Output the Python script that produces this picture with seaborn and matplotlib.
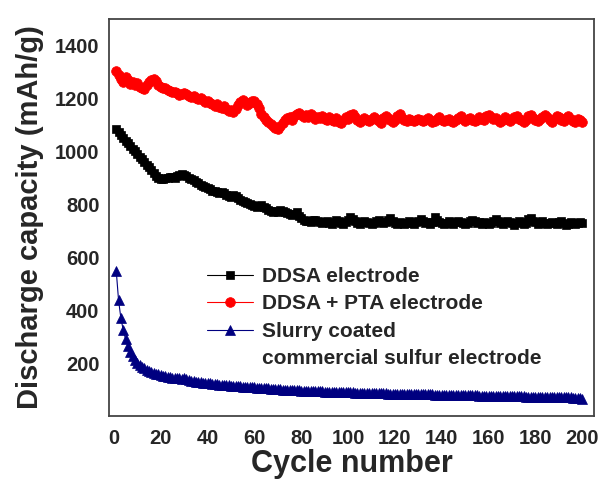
import numpy as np
import pandas as pd
import seaborn as sns
import matplotlib
matplotlib.use("Agg")
import matplotlib.pyplot as plt
from matplotlib.lines import Line2D

# Discharge capacity (mAh/g) for cycles 1..200
cycles = list(range(1, 201))

ddsa_pta = [
    1305, 1290, 1275, 1262, 1280, 1268, 1255, 1262, 1250, 1258,
    1245, 1240, 1236, 1250, 1262, 1270, 1275, 1266, 1252, 1244,
    1238, 1240, 1232, 1228, 1226, 1224, 1220, 1214, 1216, 1222,
    1215, 1208, 1204, 1210, 1200, 1196, 1203, 1195, 1188, 1192,
    1184, 1178, 1172, 1180, 1168, 1162, 1170, 1160, 1152, 1158,
    1148, 1160, 1175, 1188, 1194, 1185, 1176, 1183, 1190, 1192,
    1180, 1162, 1140, 1128, 1120, 1112, 1104, 1095, 1088, 1084,
    1096, 1108, 1118, 1126, 1130, 1120, 1134, 1140, 1144, 1138,
    1130, 1136, 1128, 1140, 1132, 1124, 1130, 1126, 1135, 1122,
    1118, 1128, 1120, 1114, 1126, 1112, 1108, 1120, 1130, 1124,
    1136, 1140, 1128, 1120, 1112, 1118, 1126, 1120, 1115, 1124,
    1130, 1122, 1116, 1108, 1125, 1133, 1127, 1120, 1112, 1118,
    1132, 1140, 1126, 1120, 1116, 1121, 1118, 1114, 1119, 1123,
    1117, 1113, 1120, 1126, 1118, 1110, 1116, 1124, 1128, 1120,
    1113, 1118, 1122, 1115, 1110, 1117, 1125, 1132, 1122, 1116,
    1121, 1127, 1118, 1114, 1120, 1128, 1124, 1118, 1134, 1138,
    1130, 1122, 1126, 1118, 1112, 1120, 1130, 1124, 1116, 1121,
    1128, 1135, 1124, 1118, 1112, 1120, 1132, 1138, 1126, 1118,
    1114, 1122, 1130, 1136, 1128, 1118, 1112, 1124, 1134, 1130,
    1120, 1114, 1126, 1132, 1122, 1116, 1110, 1124, 1118, 1112,
]

ddsa = [
    1085, 1072, 1060, 1050, 1040, 1030, 1020, 1010, 1000, 990,
    980, 970, 960, 950, 940, 930, 918, 908, 900, 896,
    895, 898, 900, 904, 902, 900, 905, 912, 916, 912,
    906, 900, 895, 890, 885, 880, 874, 868, 864, 860,
    856, 852, 850, 846, 842, 846, 842, 836, 830, 826,
    835, 830, 822, 816, 812, 808, 804, 800, 796, 792,
    788, 794, 796, 790, 785, 780, 776, 772, 774, 770,
    778, 776, 770, 768, 762, 760, 764, 770, 756, 748,
    742, 736, 738, 734, 740, 742, 738, 732, 728, 734,
    738, 730, 726, 734, 742, 736, 730, 726, 732, 740,
    752, 744, 736, 730, 726, 732, 738, 734, 728, 724,
    730, 736, 740, 734, 728, 732, 742, 748, 738, 730,
    726, 734, 730, 724, 728, 736, 730, 726, 732, 738,
    744, 736, 728, 732, 726, 734, 752, 740, 732, 728,
    724, 730, 736, 730, 726, 732, 738, 734, 728, 724,
    730, 736, 742, 736, 728, 732, 726, 734, 730, 724,
    728, 736, 744, 738, 730, 726, 732, 738, 734, 728,
    722, 730, 736, 732, 726, 730, 744, 748, 738, 732,
    726, 730, 736, 730, 724, 728, 734, 730, 726, 732,
    738, 730, 722, 726, 734, 730, 724, 728, 734, 730,
]

slurry = [
    549, 437, 369, 325, 290, 265, 242, 225, 212, 200,
    192, 186, 180, 175, 171, 167, 163, 160, 157, 155,
    153, 151, 149, 147, 145, 144, 143, 142, 141, 143,
    140, 137, 134, 132, 130, 128, 127, 126, 125, 124,
    123, 122, 121, 120, 119, 118, 117, 116, 116, 115,
    114, 113, 113, 112, 111, 110, 110, 109, 108, 108,
    107, 106, 106, 105, 104, 104, 103, 102, 102, 101,
    101, 100, 100, 99, 99, 98, 98, 97, 97, 96,
    96, 95, 95, 95, 94, 94, 93, 93, 93, 92,
    92, 92, 91, 91, 91, 90, 90, 90, 89, 89,
    89, 89, 88, 88, 88, 88, 87, 87, 87, 87,
    87, 86, 86, 86, 86, 86, 85, 85, 85, 85,
    85, 84, 84, 84, 84, 84, 83, 83, 83, 83,
    83, 82, 82, 82, 82, 82, 81, 81, 81, 81,
    80, 80, 80, 80, 80, 79, 79, 79, 79, 79,
    78, 78, 78, 78, 78, 77, 77, 77, 77, 77,
    76, 76, 76, 76, 76, 75, 75, 75, 75, 75,
    74, 74, 74, 74, 74, 73, 73, 73, 73, 73,
    72, 72, 72, 72, 72, 71, 71, 71, 71, 71,
    70, 70, 70, 70, 70, 69, 69, 69, 68, 66,
]

x_ticks = list(range(0, 201, 20))
y_ticks = list(range(200, 1401, 200))

sns.set_theme(style="white")
plt.rcParams["font.family"] = ["Liberation Sans", "DejaVu Sans"]
plt.rcParams["font.weight"] = "bold"

fig = plt.figure(figsize=(6.0, 4.79), dpi=100)
ax = fig.add_axes([0.182, 0.1315, 0.808, 0.8288])

sns.lineplot(x=cycles, y=ddsa, ax=ax, color="black", marker="s", ms=6,
             mec="black", mew=0.5, lw=0.8, label="DDSA electrode")
sns.lineplot(x=cycles, y=ddsa_pta, ax=ax, color="#ff0000", marker="o", ms=7,
             mec="#ff0000", mew=0.5, lw=0.8, label="DDSA + PTA electrode")
sns.lineplot(x=cycles, y=slurry, ax=ax, color="#000080", marker="^", ms=7,
             mec="#000080", mew=0.5, lw=0.8, label="Slurry coated")

ax.set_xlim(-2, 205)
ax.set_ylim(0, 1500)
ax.set_xticks(x_ticks)
ax.set_yticks(y_ticks)
ax.tick_params(axis="both", length=0, labelsize=14.5)
ax.tick_params(axis="x", pad=9)
ax.tick_params(axis="y", pad=7)
for lab in ax.get_xticklabels() + ax.get_yticklabels():
    lab.set_fontweight("bold")

ax.set_xlabel("Cycle number", fontsize=22, fontweight="bold", labelpad=1)
ax.set_ylabel("Discharge capacity (mAh/g)", fontsize=21, fontweight="bold", labelpad=8)

for sp in ax.spines.values():
    sp.set_color("#444444")
    sp.set_linewidth(1.3)

handles, labels = ax.get_legend_handles_labels()
handles.append(Line2D([], [], color="none"))
labels.append("commercial sulfur electrode")
ax.legend(handles, labels, loc="upper left", bbox_to_anchor=(0.202, 0.375),
          frameon=False, handlelength=2.2, handletextpad=0.45,
          labelspacing=0.4, borderpad=0, borderaxespad=0,
          prop={"weight": "bold", "size": 15})

fig.savefig("out.png", dpi=100)
